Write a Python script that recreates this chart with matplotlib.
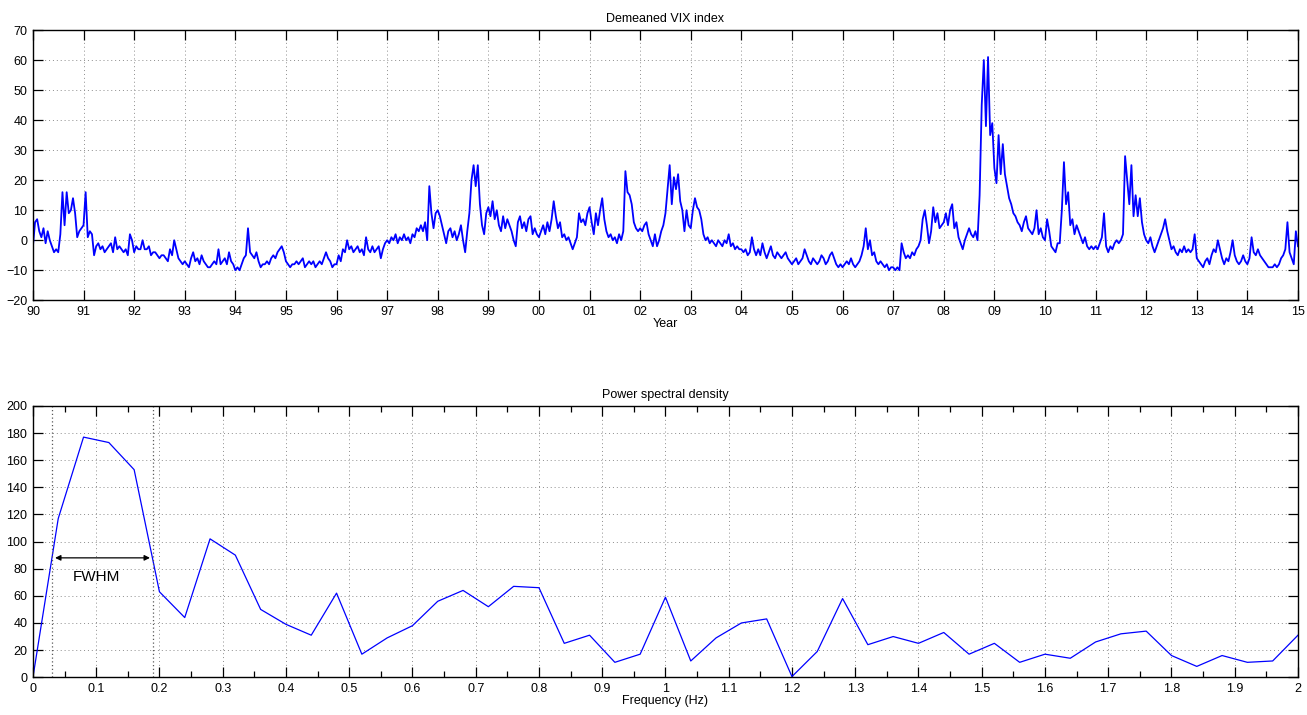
import numpy as np
import matplotlib.pyplot as plt

# demeaned VIX at roughly two points per month
vix_1990 = [-2, 6, 7, 3, 1, 4, -1, 3, 0, -2, -4, -3, -4, 2, 16, 5, 16, 9, 10, 14, 9, 1, 3, 4]
vix_1991 = [5, 16, 1, 3, 2, -5, -2, -1, -3, -2, -4, -3, -2, -1, -4, 1, -3, -2, -3, -4, -3, -5, 2, 0]
vix_1992 = [-4, -2, -3, -3, 0, -3, -3, -2, -5, -4, -4, -5, -6, -5, -5, -6, -7, -3, -5, 0, -3, -6, -7, -8]
vix_1993 = [-7, -8, -9, -6, -4, -7, -6, -8, -5, -7, -8, -9, -9, -8, -7, -8, -3, -8, -7, -6, -8, -4, -7, -8]
vix_1994 = [-10, -9, -10, -8, -6, -5, 4, -4, -5, -6, -4, -7, -9, -8, -8, -7, -8, -6, -5, -6, -4, -3, -2, -4]
vix_1995 = [-7, -8, -9, -8, -8, -7, -8, -7, -6, -9, -8, -7, -8, -7, -9, -8, -7, -8, -6, -4, -6, -7, -9, -8]
vix_1996 = [-8, -5, -7, -3, -4, 0, -3, -2, -4, -3, -2, -4, -3, -5, 1, -3, -4, -2, -4, -3, -2, -6, -3, -1]
vix_1997 = [0, -1, 1, 0, 2, -1, 1, 0, 2, 0, 1, -1, 2, 1, 4, 3, 5, 3, 6, 0, 18, 9, 4, 9]
vix_1998 = [10, 8, 5, 2, -1, 3, 4, 1, 3, 0, 2, 5, 0, -4, 3, 9, 20, 25, 18, 25, 12, 5, 2, 9]
vix_1999 = [11, 8, 13, 7, 10, 5, 3, 8, 4, 7, 5, 3, 0, -2, 6, 8, 4, 6, 3, 7, 8, 2, 4, 2]
vix_2000 = [1, 3, 5, 2, 6, 3, 7, 13, 8, 4, 6, 1, 2, 0, 1, -1, -3, -1, 1, 9, 6, 7, 5, 9]
vix_2001 = [11, 6, 2, 9, 5, 10, 14, 7, 3, 1, 2, 0, 1, -1, 2, 0, 3, 23, 16, 15, 12, 6, 4, 3]
vix_2002 = [4, 3, 5, 6, 2, 0, -2, 2, -2, 0, 3, 5, 9, 17, 25, 12, 21, 17, 22, 13, 10, 3, 10, 5]
vix_2003 = [4, 10, 14, 11, 10, 7, 2, 0, 1, -1, 0, -1, -2, 0, -1, -2, 0, -1, 2, -2, -1, -3, -2, -3]
vix_2004 = [-3, -4, -3, -5, -4, 1, -3, -5, -3, -5, -1, -4, -6, -4, -2, -5, -6, -4, -5, -6, -5, -4, -6, -7]
vix_2005 = [-8, -7, -6, -8, -7, -6, -3, -5, -7, -8, -6, -7, -8, -7, -5, -6, -8, -7, -5, -4, -6, -8, -9, -8]
vix_2006 = [-9, -8, -7, -8, -6, -8, -9, -8, -7, -5, -2, 4, -3, 0, -5, -4, -7, -8, -7, -8, -9, -8, -10, -9]
vix_2007 = [-9, -10, -9, -10, -1, -4, -6, -5, -6, -4, -5, -3, -2, 0, 7, 10, 5, -1, 3, 11, 6, 9, 4, 5]
vix_2008 = [6, 9, 5, 10, 12, 4, 6, 1, -1, -3, 0, 2, 4, 2, 1, 3, 0, 15, 45, 60, 38, 61, 35, 39]
vix_2009 = [24, 19, 35, 22, 32, 22, 18, 14, 12, 9, 8, 6, 5, 3, 6, 8, 4, 3, 2, 4, 10, 2, 4, 1]
vix_2010 = [0, 7, 3, -2, -3, -4, -1, -1, 10, 26, 12, 16, 5, 7, 2, 5, 3, 1, -1, 1, -2, -3, -2, -3]
vix_2011 = [-2, -3, -1, 1, 9, -2, -4, -2, -3, -1, 0, -1, 0, 2, 28, 20, 12, 25, 8, 15, 8, 14, 6, 2]
vix_2012 = [0, -1, 1, -2, -4, -2, 0, 2, 4, 7, 3, 0, -3, -2, -4, -5, -3, -4, -2, -4, -3, -4, -3, 2]
vix_2013 = [-6, -7, -8, -9, -7, -6, -8, -5, -3, -4, 0, -3, -6, -8, -6, -7, -4, 0, -5, -7, -8, -7, -5, -7]
vix_2014 = [-8, -6, 1, -4, -5, -3, -5, -6, -7, -8, -9, -9, -9, -8, -9, -8, -6, -5, -3, 6, -4, -6, -8, 3]
vix_2015 = [-2]

years = list(range(1990, 2016))
vix_by_year = [vix_1990, vix_1991, vix_1992, vix_1993, vix_1994, vix_1995, vix_1996,
               vix_1997, vix_1998, vix_1999, vix_2000, vix_2001, vix_2002, vix_2003,
               vix_2004, vix_2005, vix_2006, vix_2007, vix_2008, vix_2009, vix_2010,
               vix_2011, vix_2012, vix_2013, vix_2014, vix_2015]

# power spectral density, one value every 0.04 Hz
psd_freq = np.arange(51) * 0.04
psd = [0, 117, 177, 173, 153, 63, 44, 102, 90, 50, 39, 31, 62, 17, 29, 38, 56, 64, 52, 67,
       66, 25, 31, 11, 17, 59, 12, 29, 40, 43, 0.5, 19, 58, 24, 30, 25, 33, 17, 25, 11,
       17, 14, 26, 32, 34, 16, 8, 16, 11, 12, 31]

fwhm_lo, fwhm_hi = 0.03, 0.19

year_labels = [f'{y % 100:02d}' for y in years]
freq_ticks = np.round(np.arange(21) * 0.1, 1)
freq_labels = ['%g' % f for f in freq_ticks]
freq_minor = np.round(np.arange(20) * 0.1 + 0.05, 2)

# time axis: 24 readings per year
t, v = [], []
for y, vals in zip(years, vix_by_year):
    for i, val in enumerate(vals):
        t.append(y + i / 24)
        v.append(val)

plt.rcParams['font.family'] = ['Liberation Sans', 'DejaVu Sans']
plt.rcParams['font.size'] = 9

fig = plt.figure(figsize=(13.07, 7.15), dpi=100)
ax1 = fig.add_axes([0.0252, 0.580, 0.9679, 0.378])
ax2 = fig.add_axes([0.0252, 0.0528, 0.9679, 0.3795])

ax1.plot(t, v, color='#0000ff', lw=1.3)
ax1.set_xlim(1990, 2015)
ax1.set_ylim(-20, 70)
ax1.set_xticks(years)
ax1.set_xticklabels(year_labels)
ax1.set_yticks(range(-20, 71, 10))
ax1.set_title('Demeaned VIX index', fontsize=9, pad=6)
ax1.set_xlabel('Year', fontsize=9, labelpad=0)

ax2.plot(psd_freq, psd, color='#0000ff', lw=0.9)
ax2.axvline(fwhm_lo, color='0.35', ls=(0, (1, 2)), lw=0.9)
ax2.axvline(fwhm_hi, color='0.35', ls=(0, (1, 2)), lw=0.9)
ax2.annotate('', xy=(fwhm_lo + 0.005, 88), xytext=(fwhm_hi - 0.005, 88),
             arrowprops=dict(arrowstyle='<|-|>', color='black', lw=0.9,
                             mutation_scale=8, shrinkA=0, shrinkB=0))
ax2.text(0.1, 74, 'FWHM', fontsize=11, ha='center', va='center')
ax2.set_xlim(0, 2)
ax2.set_ylim(0, 200)
ax2.set_xticks(freq_ticks)
ax2.set_xticklabels(freq_labels)
ax2.set_xticks(freq_minor, minor=True)
ax2.set_yticks(range(0, 201, 20))
ax2.set_title('Power spectral density', fontsize=9, pad=6)
ax2.set_xlabel('Frequency (Hz)', fontsize=9, labelpad=0)

for ax in (ax1, ax2):
    ax.grid(True, which='major', color='0.55', ls=(0, (1, 3)), lw=0.7)
    ax.tick_params(which='both', direction='in', top=True, right=True, labelsize=9, pad=4)
    ax.tick_params(which='major', length=7, width=0.9)
    ax.tick_params(which='minor', length=4, width=0.9)
    for s in ax.spines.values():
        s.set_linewidth(1.0)

fig.savefig('out.png', dpi=100)
